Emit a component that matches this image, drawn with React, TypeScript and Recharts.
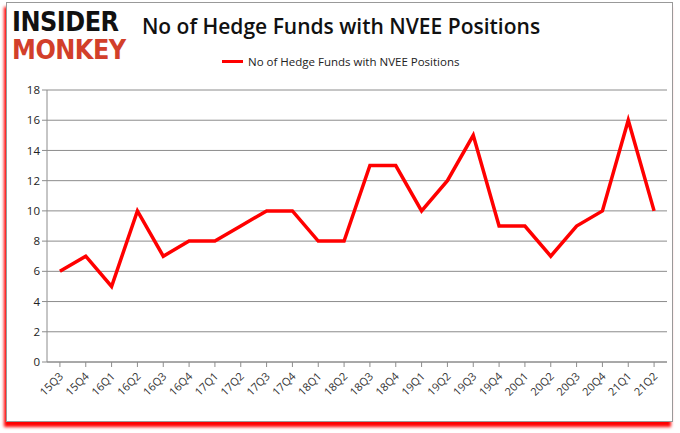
import { LineChart, Line, XAxis, YAxis, CartesianGrid } from 'recharts';

const quarters = [
  '15Q3', '15Q4', '16Q1', '16Q2', '16Q3', '16Q4', '17Q1', '17Q2', '17Q3', '17Q4', '18Q1', '18Q2',
  '18Q3', '18Q4', '19Q1', '19Q2', '19Q3', '19Q4', '20Q1', '20Q2', '20Q3', '20Q4', '21Q1', '21Q2',
];
const funds = [6, 7, 5, 10, 7, 8, 8, 9, 10, 10, 8, 8, 13, 13, 10, 12, 15, 9, 9, 7, 9, 10, 16, 10];
const yTicks = [0, 2, 4, 6, 8, 10, 12, 14, 16, 18];

const data = quarters.map((q, i) => ({ q, funds: funds[i] }));

const XTick = (props: any) => {
  const { x, y, payload } = props;
  return (
    <g transform={`translate(${x + 4},${y + 8})`}>
      <text
        textAnchor="end"
        transform="rotate(-45)"
        fontSize={11}
        fill="#333"
        fontFamily="'Open Sans', sans-serif"
      >
        {payload.value}
      </text>
    </g>
  );
};

const logoLine = {
  position: 'absolute' as const,
  left: 12,
  lineHeight: '24px',
  fontFamily: "'DejaVu Sans', sans-serif",
  fontWeight: 900,
  fontSize: 24,
  letterSpacing: -0.5,
  transform: 'scale(1, 1.1)',
  transformOrigin: 'top left',
};

export default function App() {
  return (
    <div style={{ position: 'absolute', left: 0, top: 0, width: 680, height: 433, background: '#fff' }}>
      <div
        style={{
          position: 'absolute', left: 6, top: 2, width: 665, height: 418,
          border: '1px solid #999', boxShadow: '-2px 5px 3px #f00',
        }}
      />
      <div style={{ ...logoLine, top: 9, color: '#111' }}>INSIDER</div>
      <div style={{ ...logoLine, top: 37, color: '#d23f2a' }}>MONKEY</div>
      <div style={{ position: 'absolute', left: 130, top: 12, width: 422, textAlign: 'center', fontFamily: "'Open Sans', sans-serif", fontWeight: 600, fontSize: 21, color: '#111' }}>
        No of Hedge Funds with NVEE Positions
      </div>
      <div style={{ position: 'absolute', left: 222, top: 54, display: 'flex', alignItems: 'center', fontFamily: "'Open Sans', sans-serif", fontSize: 11.5, color: '#222' }}>
        <span style={{ display: 'inline-block', width: 21, height: 3, background: '#f00', marginRight: 5 }} />
        No of Hedge Funds with NVEE Positions
      </div>
      <LineChart width={680} height={433} data={data} margin={{ top: 90, right: 13, bottom: 11, left: 17 }} style={{ position: 'absolute', left: 0, top: 0 }}>
        <CartesianGrid horizontal vertical={false} stroke="#8c8c8c" />
        <XAxis
          dataKey="q"
          scale="band"
          interval={0}
          height={60}
          stroke="#8c8c8c"
          tickSize={5}
          tick={<XTick />}
        />
        <YAxis
          domain={[0, 18]}
          ticks={yTicks}
          width={30}
          stroke="#8c8c8c"
          tickSize={5}
          tick={{ fontSize: 11.5, fill: '#222', fontFamily: "'Open Sans', sans-serif" }}
        />
        <Line type="linear" dataKey="funds" stroke="#ff0000" strokeWidth={3.5} dot={false} isAnimationActive={false} />
      </LineChart>
    </div>
  );
}
